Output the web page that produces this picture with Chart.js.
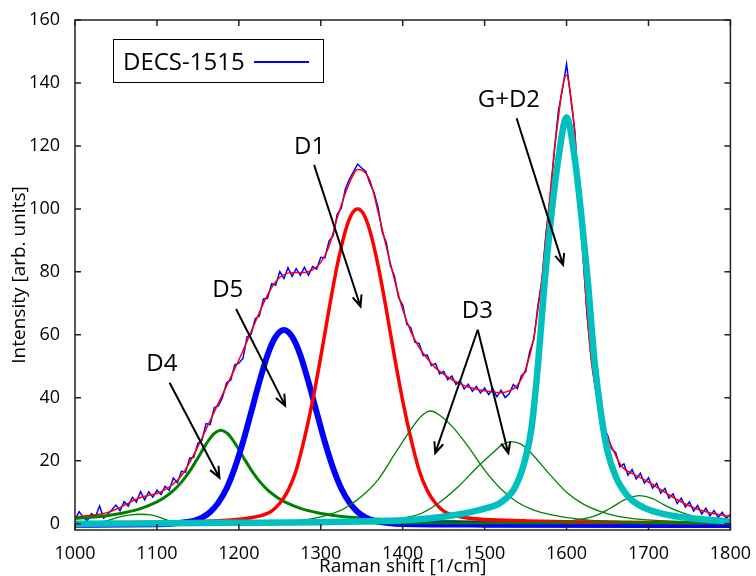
<!DOCTYPE html>
<html>
<head>
<meta charset="utf-8">
<script src="https://cdn.jsdelivr.net/npm/chart.js@4.4.0/dist/chart.umd.min.js"></script>
<style>
    body { margin: 0; background: #fff; }
</style>
</head>
<body>
<canvas id="myChart" width="756" height="576"></canvas>
<script>
// Trục và vạch chia
const xTicks = [1000, 1100, 1200, 1300, 1400, 1500, 1600, 1700, 1800];
const yTicks = [0, 20, 40, 60, 80, 100, 120, 140, 160];

// Phổ đo (DECS-1515), bước 5 cm-1 từ 1000
const obsStart = 1000, obsStep = 5;
const obsY = [
    1.2, 3.8, 2.1, 0.9, 3.2, 2.2, 5.6, 1.8, 3.1, 4.4,
    5.9, 4.1, 7.0, 5.6, 8.4, 6.9, 10.2, 7.6, 10.1, 8.4,
    10.6, 9.3, 11.9, 10.6, 14.5, 13.0, 16.7, 16.3, 20.8, 21.1,
    25.6, 26.5, 31.8, 31.5, 36.9, 37.4, 40.1, 44.8, 45.6, 50.5,
    51.0, 52.5, 59.3, 60.2, 65.1, 66.0, 71.4, 71.6, 76.2, 75.8,
    80.1, 77.9, 81.3, 78.6, 81.0, 78.9, 81.4, 79.0, 81.7, 80.9,
    84.6, 84.4, 89.8, 91.4, 98.3, 100.2, 106.3, 109.5, 111.8, 114.2,
    113.0, 111.9, 108.1, 105.2, 100.4, 92.6, 89.3, 81.9, 78.6, 71.8,
    69.5, 63.4, 62.2, 57.6, 57.3, 53.4, 53.6, 50.2, 50.9, 47.6,
    48.4, 45.7, 46.9, 44.2, 45.5, 42.8, 44.3, 42.1, 43.6, 41.5,
    43.1, 41.0, 42.9, 40.3, 42.4, 40.1, 41.3, 44.2, 42.9, 47.1,
    48.2, 54.6, 58.5, 69.2, 77.4, 92.5, 103.1, 118.4, 131.0, 138.0,
    146.0, 135.5, 125.0, 104.5, 86.0, 66.2, 53.0, 43.2, 38.5, 30.5,
    28.2, 23.8, 22.6, 18.1, 19.0, 15.4, 17.2, 14.2, 16.0, 12.9,
    14.6, 11.3, 12.8, 9.7, 11.2, 8.1, 9.5, 6.4, 8.1, 5.3,
    6.9, 4.0, 5.8, 3.1, 4.9, 2.5, 4.2, 2.0, 3.6, 1.7,
    3.0
];

// Đường khớp tổng
const fitX = [1000, 1010, 1020, 1030, 1040, 1050, 1060, 1070, 1080, 1090,
    1100, 1110, 1120, 1130, 1140, 1150, 1160, 1170, 1180, 1190,
    1200, 1210, 1220, 1230, 1240, 1250, 1260, 1270, 1280, 1290,
    1300, 1310, 1320, 1330, 1340, 1345, 1350,
    1360, 1370, 1380, 1390, 1400, 1410, 1420, 1430, 1440, 1450, 1460, 1470, 1480, 1490,
    1500, 1510, 1520, 1530, 1540, 1550, 1560,
    1565, 1570, 1575, 1580, 1585, 1590, 1595, 1600, 1605, 1610, 1615, 1620, 1625, 1630,
    1636, 1646, 1655, 1667, 1683, 1699, 1715, 1735, 1756, 1776, 1800];
const fitY = [2.2, 2.4, 2.7, 3.0, 3.6, 4.6, 5.8, 7.2, 8.3, 9.0,
    9.6, 10.8, 12.6, 15.3, 19.5, 24.5, 30, 35.5, 41, 46.5,
    52, 58, 64, 70, 75, 78.3, 79.6, 79.8, 79.8, 80.6,
    83, 88, 97, 105, 111, 112.5, 112.3,
    109, 99, 88, 77.5, 68, 61, 56, 52.5, 49.5, 47.5, 45.8, 44.4, 43.4, 42.7,
    42.2, 41.8, 41.6, 42.2, 44, 49, 59,
    68, 78, 92, 105, 118, 129, 138.5, 142.5, 136, 124, 104, 85, 67, 52,
    42, 30, 24.5, 18.3, 15.6, 13.4, 10.8, 7.6, 5, 3.4, 2.3];

// Các thành phần: D4
const d4X = [1000, 1020, 1040, 1060, 1080, 1100, 1110, 1120, 1130, 1140, 1150, 1160, 1170, 1178,
    1186, 1196, 1206, 1216, 1226, 1236, 1246, 1256, 1276, 1296, 1316, 1336, 1376, 1426, 1476, 1576, 1676, 1800];
const d4Y = [1.65, 2.05, 2.63, 3.48, 4.8, 6.92, 8.49, 10.5, 13.2, 16.7, 20.9, 25.3, 28.7, 29.7,
    28.7, 25.3, 20.9, 16.7, 13.2, 10.5, 8.49, 6.92, 4.8, 3.48, 2.63, 2.05, 1.34, 0.87, 0.61, 0.34, 0.22, 0.14];

// D5
const d5X = [1000, 1100, 1130, 1145, 1155, 1165, 1175, 1185, 1195, 1205, 1215, 1225, 1235, 1245, 1255,
    1265, 1275, 1285, 1295, 1305, 1315, 1325, 1335, 1345, 1355, 1365, 1380, 1400, 1500, 1800];
const d5Y = [-0.3, -0.2, 0.3, 0.9, 1.9, 3.7, 6.7, 11.2, 17.7, 25.9, 35.4, 45, 53.6, 59.4, 61.5,
    59.4, 53.6, 45, 35.4, 25.9, 17.7, 11.2, 6.7, 3.7, 1.9, 0.9, 0.3, -0.1, -0.3, -0.4];

// D1
const d1X = [1000, 1100, 1150, 1180, 1200, 1215, 1230, 1240, 1250, 1260, 1270, 1280, 1290, 1300, 1310, 1320, 1330, 1338, 1345,
    1352, 1360, 1370, 1380, 1390, 1400, 1410, 1420, 1430, 1440, 1450, 1460, 1480, 1500, 1550, 1600, 1700, 1800];
const d1Y = [0.2, 0.4, 0.7, 1.0, 1.4, 1.9, 2.8, 4, 6.5, 10.5, 17, 27, 39, 53, 68, 82, 93, 98.5, 100,
    98.5, 93, 82, 68, 53, 39, 27, 17, 10.5, 6.5, 4, 2.8, 1.8, 1.3, 0.9, 0.6, 0.4, 0.3];

// D3 (hai đỉnh)
const d3aX = [1000, 1250, 1280, 1310, 1330, 1350, 1370, 1390, 1410, 1422, 1434, 1446, 1460, 1480, 1500, 1520, 1540, 1560, 1580, 1620, 1660, 1720, 1800];
const d3aY = [0.1, 0.5, 1.2, 2.9, 5, 8.7, 14, 22, 30, 34, 35.8, 34.3, 31, 24.5, 17, 11, 6.8, 4.3, 2.9, 1.3, 0.7, 0.4, 0.2];
const d3bX = [1000, 1350, 1380, 1400, 1420, 1444, 1468, 1490, 1512, 1522, 1533, 1545, 1557, 1580, 1600, 1620, 1640, 1660, 1690, 1740, 1800];
const d3bY = [0, 0.6, 1, 1.8, 3, 6.6, 11.8, 17.7, 23, 25.2, 26.1, 25.2, 22.4, 15.5, 10, 6.3, 4, 2.5, 1.4, 0.7, 0.4];

// Đỉnh nhỏ 1080 và 1690
const p1080X = [1000, 1020, 1035, 1045, 1055, 1068, 1080, 1092, 1100, 1110, 1120, 1135, 1160, 1800];
const p1080Y = [0, 0.2, 0.7, 1.4, 2.2, 2.8, 3, 2.8, 2.3, 1.4, 0.6, 0.2, 0, 0];
const p1690X = [1000, 1560, 1600, 1614, 1634, 1654, 1672, 1689, 1705, 1719, 1733, 1748, 1762, 1776, 1800];
const p1690Y = [0, 0.3, 0.8, 1.3, 2.4, 5, 7.7, 8.9, 8, 6, 4.3, 2.9, 1.9, 1.3, 0.7];

// G+D2
const gX = [1000, 1200, 1300, 1380, 1420, 1460, 1500, 1520, 1537, 1549, 1557, 1565, 1573, 1581, 1590, 1600,
    1610, 1618, 1626, 1634, 1642, 1650, 1660, 1675, 1695, 1715, 1735, 1765, 1800];
const gY = [0, 0.3, 0.5, 0.9, 1.4, 2.6, 4.8, 6.8, 11.5, 20, 30, 50, 76, 97, 116, 129,
    116, 98, 77, 52, 35, 23, 15, 8.7, 5, 3.3, 2.3, 1.4, 0.7];

// Nhãn và mũi tên (toạ độ dữ liệu)
const peakLabels = ['D4', 'D5', 'D1', 'D3', 'G+D2'];
const labelX = [1106, 1186.4, 1286.3, 1491.2, 1529.6];
const labelY = [51.1, 74.8, 120.2, 68, 135];
const arrowFromX = [1115.5, 1196.6, 1291.8, 1491.6, 1491.6, 1539];
const arrowFromY = [44.8, 68.2, 114, 61.6, 61.6, 128.8];
const arrowToX = [1176.3, 1256.5, 1348.5, 1439.7, 1528.9, 1595.7];
const arrowToY = [14.6, 37.5, 69, 22.4, 22.4, 82.2];

const FONT = 'Open Sans';

function pts(xs, ys) {
    return xs.map(function(x, i) { return { x: x, y: ys[i] }; });
}

function line(data, color, width, order) {
    return {
        data: data,
        borderColor: color,
        borderWidth: width,
        pointRadius: 0,
        fill: false,
        cubicInterpolationMode: 'monotone',
        order: order
    };
}

const obsData = obsY.map(function(y, i) { return { x: obsStart + i * obsStep, y: y }; });

// Vẽ khung, vạch chia hướng vào trong, nhãn, mũi tên và chú giải
const extras = {
    id: 'extras',
    afterDatasetsDraw: function(chart) {
        const ctx = chart.ctx, a = chart.chartArea;
        const sx = chart.scales.x, sy = chart.scales.y;
        ctx.save();

        ctx.strokeStyle = '#222';
        ctx.lineWidth = 1.5;
        ctx.strokeRect(a.left, a.top, a.right - a.left, a.bottom - a.top);
        ctx.beginPath();
        xTicks.forEach(function(v) {
            const p = sx.getPixelForValue(v);
            ctx.moveTo(p, a.bottom); ctx.lineTo(p, a.bottom - 6);
            ctx.moveTo(p, a.top); ctx.lineTo(p, a.top + 6);
        });
        yTicks.forEach(function(v) {
            const p = sy.getPixelForValue(v);
            ctx.moveTo(a.left, p); ctx.lineTo(a.left + 6, p);
            ctx.moveTo(a.right, p); ctx.lineTo(a.right - 6, p);
        });
        ctx.stroke();

        // mũi tên
        ctx.strokeStyle = '#000';
        ctx.lineWidth = 2;
        for (let i = 0; i < arrowFromX.length; i++) {
            const x0 = sx.getPixelForValue(arrowFromX[i]), y0 = sy.getPixelForValue(arrowFromY[i]);
            const x1 = sx.getPixelForValue(arrowToX[i]), y1 = sy.getPixelForValue(arrowToY[i]);
            const ang = Math.atan2(y1 - y0, x1 - x0);
            ctx.beginPath();
            ctx.moveTo(x0, y0); ctx.lineTo(x1, y1);
            ctx.moveTo(x1 - 12 * Math.cos(ang - 0.4), y1 - 12 * Math.sin(ang - 0.4));
            ctx.lineTo(x1, y1);
            ctx.lineTo(x1 - 12 * Math.cos(ang + 0.4), y1 - 12 * Math.sin(ang + 0.4));
            ctx.stroke();
        }

        // nhãn đỉnh
        ctx.fillStyle = '#000';
        ctx.font = '24px "' + FONT + '"';
        ctx.textAlign = 'center';
        ctx.textBaseline = 'alphabetic';
        peakLabels.forEach(function(t, i) {
            ctx.fillText(t, sx.getPixelForValue(labelX[i]), sy.getPixelForValue(labelY[i]) + 8.5);
        });

        // chú giải
        const bx = a.left + 38, by = a.top + 19;
        ctx.fillStyle = '#fff';
        ctx.fillRect(bx, by, 210, 43);
        ctx.strokeStyle = '#000';
        ctx.lineWidth = 1;
        ctx.strokeRect(bx + 0.5, by + 0.5, 210, 43);
        ctx.fillStyle = '#000';
        ctx.textAlign = 'left';
        ctx.fillText('DECS-1515', bx + 10, by + 31);
        ctx.strokeStyle = '#0000ff';
        ctx.lineWidth = 2;
        ctx.beginPath();
        ctx.moveTo(bx + 141, by + 23); ctx.lineTo(bx + 196, by + 23);
        ctx.stroke();

        ctx.restore();
    }
};

const ctx = document.getElementById('myChart').getContext('2d');
new Chart(ctx, {
    type: 'line',
    data: {
        datasets: [
            line(pts(gX, gY), '#00bfbf', 6.5, 0),
            line(pts(p1690X, p1690Y), '#008000', 1.3, 1),
            line(pts(p1080X, p1080Y), '#008000', 1.3, 2),
            line(pts(d3bX, d3bY), '#008000', 1.3, 3),
            line(pts(d3aX, d3aY), '#008000', 1.3, 4),
            line(pts(d1X, d1Y), '#ff0000', 3.5, 5),
            line(pts(d5X, d5Y), '#0000ff', 6, 6),
            line(pts(d4X, d4Y), '#008000', 3, 7),
            line(pts(fitX, fitY), '#ff0000', 1.5, 8),
            Object.assign(line(obsData, '#0000ff', 1.5, 9), { cubicInterpolationMode: 'default', tension: 0 })
        ]
    },
    options: {
        responsive: false,
        devicePixelRatio: 1,
        animation: false,
        layout: { padding: { top: 20, right: 23, left: 0, bottom: 0 } },
        plugins: {
            legend: { display: false },
            tooltip: { enabled: false }
        },
        scales: {
            x: {
                type: 'linear',
                min: 1000,
                max: 1800,
                afterBuildTicks: function(s) { s.ticks = xTicks.map(function(v) { return { value: v }; }); },
                afterFit: function(s) { s.height = 46; },
                grid: { display: false },
                border: { display: false },
                ticks: {
                    font: { family: FONT, size: 18 }, color: '#000', padding: 5, maxRotation: 0, autoSkip: false,
                    callback: function(value) { return String(value); }
                },
                title: { display: true, text: 'Raman shift [1/cm]', color: '#000',
                    font: { family: FONT, size: 19, lineHeight: 0.95 }, padding: 0 }
            },
            y: {
                min: -2,
                max: 160,
                afterBuildTicks: function(s) { s.ticks = yTicks.map(function(v) { return { value: v }; }); },
                afterFit: function(s) { s.width = 75; },
                grid: { display: false },
                border: { display: false },
                ticks: {
                    font: { family: FONT, size: 18 }, color: '#000', padding: 7, autoSkip: false,
                    callback: function(value) { return String(value); }
                },
                title: { display: true, text: 'Intensity [arb. units]', color: '#000',
                    font: { family: FONT, size: 19, lineHeight: 1 }, padding: { top: 10.5, bottom: 0 } }
            }
        }
    },
    plugins: [extras]
});
</script>
</body>
</html>
